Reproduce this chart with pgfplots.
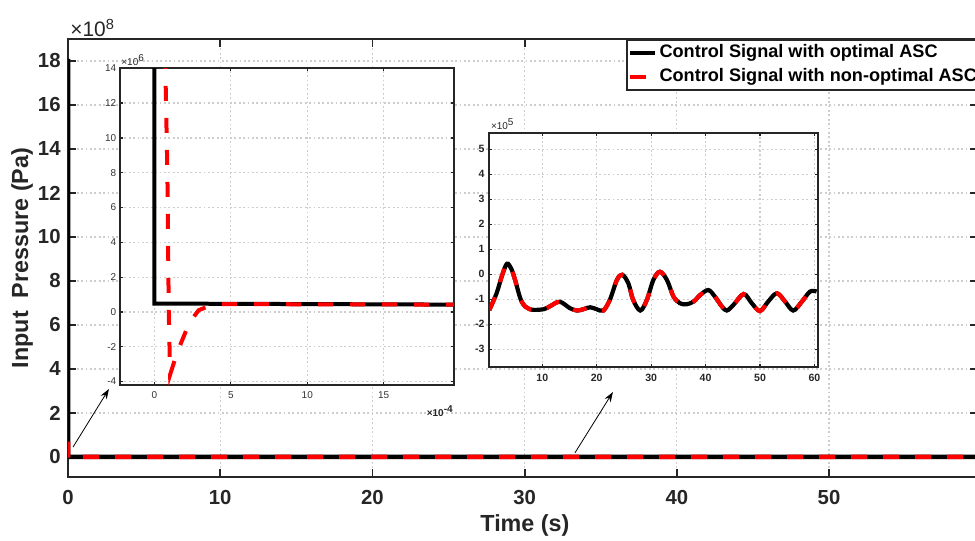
\documentclass[border=0pt]{standalone}
\usepackage{fontspec}
\setmainfont{Liberation Sans}
\usepackage{pgfplots}
\usepackage{pgfplotstable}
\pgfplotsset{compat=1.18}
\usetikzlibrary{arrows.meta}
\definecolor{mred}{RGB}{255,0,0}
\definecolor{gridgray}{RGB}{205,205,205}

% inset 2 data: time (s) vs pressure (x 1e5 Pa)
\pgfplotstableread{
x y
0.26 -1.43
1.6 -0.76
2.6 -0.05
3.5 0.42
4.3 0.22
5.0 -0.23
6.2 -1.09
7.7 -1.40
10.2 -1.40
11.4 -1.28
13.2 -1.10
15.1 -1.36
16.4 -1.45
17.5 -1.40
18.8 -1.32
20.0 -1.40
21.2 -1.45
22.4 -1.03
23.7 -0.23
24.7 -0.02
25.8 -0.36
26.7 -1.03
28.0 -1.45
29.2 -1.03
30.4 -0.23
31.6 0.10
32.9 -0.23
34.1 -0.89
35.3 -1.16
36.5 -1.20
37.8 -1.09
39.0 -0.83
40.5 -0.63
41.7 -0.89
43.0 -1.29
43.9 -1.45
45.1 -1.23
47.0 -0.79
48.5 -1.16
50.0 -1.47
51.5 -1.09
53.1 -0.76
54.6 -1.09
56.1 -1.45
57.7 -1.09
59.2 -0.69
60.4 -0.69
}\insettwo

\begin{document}
\begin{tikzpicture}
\begin{axis}[
  at={(0,0)}, anchor=south west,
  scale only axis, width=455.1bp, height=219bp,
  xmin=0, xmax=59.8, ymin=-0.91, ymax=19,
  xtick={0,10,...,50}, ytick={0,2,...,18},
  scaled ticks=false,
  tick align=inside,
  major tick length=4bp,
  every tick/.style={line width=0.9bp, black!85},
  axis line style={line width=1bp, black!85},
  grid=major,
  major grid style={gridgray, line width=0.6bp, dash pattern=on 0.9bp off 1.3bp},
  /pgf/number format/assume math mode=true,
  ticklabel style={font=\fontsize{10.2}{12}\selectfont\bfseries, text=black!85},
  yticklabel style={inner sep=0pt, xshift=-3.5bp},
  xticklabel style={inner sep=0pt, yshift=-6.5bp},
  xlabel={Time (s)},
  ylabel={Input\ \ Pressure (Pa)},
  every axis x label/.style={at={(rel axis cs:0.502,-0.1096)}, anchor=center, font=\fontsize{11.7}{14}\selectfont\bfseries, text=black!85},
  every axis y label/.style={at={(rel axis cs:-0.0505,0.5)}, anchor=center, rotate=90, font=\fontsize{11.7}{14}\selectfont\bfseries, text=black!85},
  legend style={at={(rel axis cs:0.613,1)}, anchor=north west, draw=black!85, line width=1bp,
    font=\fontsize{9.1}{11}\selectfont\bfseries, fill=white, inner sep=0.5bp,
    nodes={inner xsep=1bp, inner ysep=1.75bp, text height=6.6bp, text depth=1.9bp},
    row sep=0pt},
  legend cell align=left,
  legend image code/.code={\draw[#1] (0bp,0bp) -- (12.5bp,0bp);},
]
\addplot[black, line width=2.3bp] coordinates {(0,18.1) (0,0.005) (59.8,0.004)};
\addlegendentry{Control Signal with optimal ASC}
\addplot[mred, line width=2.3bp, dash pattern=on 8bp off 8bp] coordinates {(0,0.7) (0.0001,-0.037) (0.0004,0.0045) (59.8,0.004)};
\addlegendentry{Control Signal with non-optimal ASC}
\draw[-{Stealth[length=5bp,width=3.5bp]}, line width=0.4bp] (axis cs:0.33,0.45) -- (axis cs:2.69,3.09);
\draw[-{Stealth[length=5bp,width=3.5bp]}, line width=0.4bp] (axis cs:33.3,0.18) -- (axis cs:35.8,2.95);
\end{axis}

% inset 1 (x in 1e-4 s, y in 1e6 Pa)
\begin{axis}[
  at={(26bp,46bp)}, anchor=south west,
  scale only axis, width=167bp, height=158.35bp,
  xmin=-2.25, xmax=19.6, ymin=-4.2, ymax=14,
  xtick={0,5,10,15}, ytick={-4,-2,...,14},
  scaled ticks=false,
  axis background/.style={fill=white},
  grid=major,
  major grid style={gridgray, line width=0.6bp, dash pattern=on 0.9bp off 1.3bp},
  tick align=inside, major tick length=1.5bp,
  every tick/.style={line width=0.6bp, black!85},
  axis line style={line width=1bp, black!85},
  /pgf/number format/assume math mode=true,
  ticklabel style={font=\fontsize{5}{6}\selectfont, text=black!80},
  yticklabel style={inner sep=0pt, xshift=-1.7bp},
  xticklabel style={inner sep=0pt, yshift=-3.3bp},
]
\addplot[black, line width=2bp] coordinates {(0,1810) (0,0.48) (19.6,0.42)};
\addplot[mred, line width=2bp, dash pattern=on 7.5bp off 8.5bp] coordinates {(0.6,70) (0.72,14) (0.76,12) (0.85,8) (0.94,0) (1.03,-3.6) (1.5,-2.3) (2.3,-0.6) (2.9,0.1) (3.9,0.45) (19.6,0.42)};
\end{axis}

% inset 2 (x in s, y in 1e5 Pa)
\begin{axis}[
  at={(210.65bp,54.85bp)}, anchor=south west,
  scale only axis, width=164.2bp, height=117.3bp,
  xmin=0.26, xmax=60.6, ymin=-3.72, ymax=5.66,
  xtick={10,20,...,60}, ytick={-3,-2,...,5},
  scaled ticks=false,
  axis background/.style={fill=white},
  grid=major,
  major grid style={gridgray, line width=0.6bp, dash pattern=on 0.9bp off 1.3bp},
  tick align=inside, major tick length=1.5bp,
  every tick/.style={line width=0.6bp, black!85},
  axis line style={line width=1bp, black!85},
  /pgf/number format/assume math mode=true,
  ticklabel style={font=\fontsize{5.3}{6}\selectfont\bfseries, text=black!85},
  yticklabel style={inner sep=0pt, xshift=-2.2bp},
  xticklabel style={inner sep=0pt, yshift=-3bp},
]
\addplot[black, line width=2.1bp, smooth, tension=0.55] table[x=x,y=y] {\insettwo};
\addplot[mred, line width=2.1bp, smooth, tension=0.55, dash pattern=on 7bp off 8bp] table[x=x,y=y] {\insettwo};
\end{axis}

% multiplier labels
\node[anchor=base west, font=\fontsize{10.5}{12}\selectfont, text=black!85, inner sep=0pt] at (1bp,220bp) {×10\textsuperscript{8}};
\node[anchor=base west, font=\fontsize{5}{6}\selectfont, text=black!85, inner sep=0pt] at (26.5bp,205.8bp) {×10\textsuperscript{6}};
\node[anchor=base east, font=\fontsize{5}{6}\selectfont\bfseries, text=black!85, inner sep=0pt] at (193bp,30.2bp) {×10\textsuperscript{-4}};
\node[anchor=base west, font=\fontsize{5}{6}\selectfont, text=black!85, inner sep=0pt] at (211.3bp,173.5bp) {×10\textsuperscript{5}};

\pgfresetboundingbox
\path[use as bounding box] (-34bp,-32bp) rectangle (453.5bp,238.5bp);
\end{tikzpicture}
\end{document}
